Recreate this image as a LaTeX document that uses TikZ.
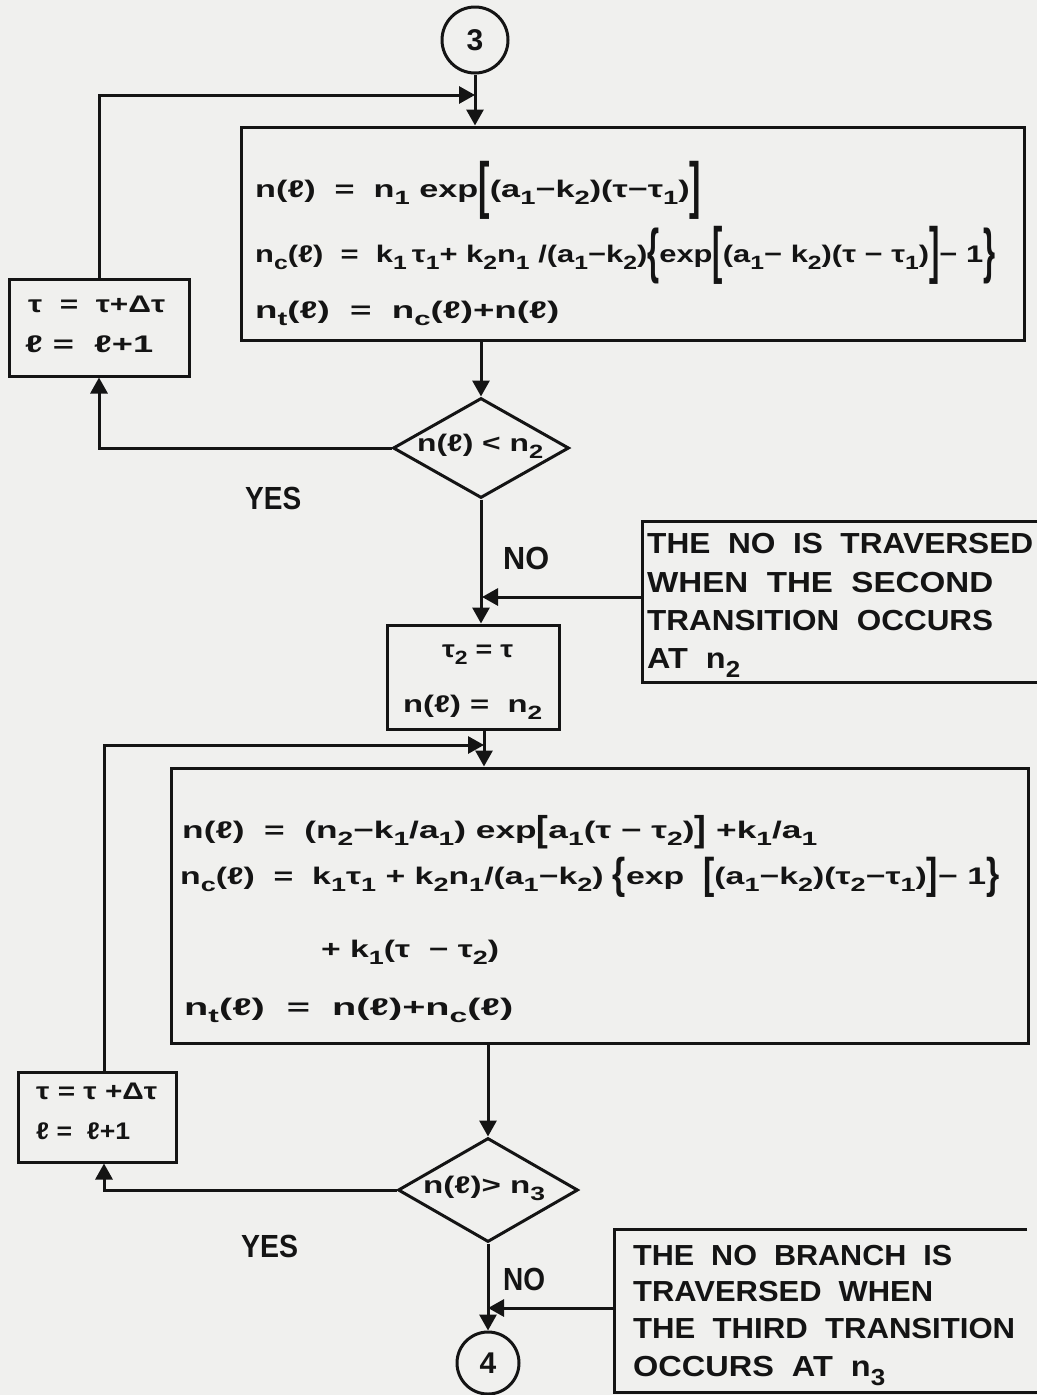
\documentclass[tikz,border=0pt]{standalone}
\usepackage{fontspec}
\setmainfont{Liberation Sans}
\usepackage{graphicx}
\usetikzlibrary{shapes.geometric,arrows.meta}
\newcommand\sbs[1]{\raisebox{-0.32em}{\scalebox{0.8}{#1}}}
\newcommand\BB[3]{\raisebox{#2em}{\scalebox{1}[#1]{#3}}}
\newcommand\fitto[2]{\resizebox{#1pt}{\height}{#2}}
\definecolor{paper}{RGB}{240,240,238}
\definecolor{ink}{RGB}{20,20,20}
\begin{document}
\begin{tikzpicture}[x=1pt,y=-1pt,
  ln/.style={line width=3pt, draw=ink},
  arr/.style={ln,-{Triangle[length=16pt,width=17pt]}},
  boxn/.style={draw=ink,line width=3pt,rectangle,inner sep=0pt},
  ftx/.style={font=\bfseries\fontsize{24}{28}\selectfont, inner sep=0pt, anchor=base west, text=ink},
  fnote/.style={font=\bfseries\fontsize{29}{33}\selectfont, inner sep=0pt, anchor=base west, text=ink},
  flab/.style={font=\bfseries\fontsize{32}{36}\selectfont, inner sep=0pt, anchor=base west, text=ink},
  fcirc/.style={font=\bfseries\fontsize{30}{34}\selectfont, text=ink}
]
\fill[paper] (0,0) rectangle (1037,1395);
\useasboundingbox (0,0) rectangle (1037,1395);

% shapes
\node[boxn, circle, minimum size=66pt, fcirc] (c3) at (475,40) {3};
\node[boxn, minimum width=783pt, minimum height=213pt] (box1) at (632.5,233.5) {};
\node[boxn, minimum width=180pt, minimum height=97pt] (lp1) at (99,327.5) {};
\node[boxn, diamond, minimum width=176pt, minimum height=100pt] (d1) at (481,448) {};
\node[boxn, minimum width=172pt, minimum height=104pt] (box2) at (473,677) {};
\node[minimum width=394pt, minimum height=160pt, inner sep=0pt] (note1) at (840,602) {};
\node[boxn, minimum width=857pt, minimum height=275pt] (box3) at (599.5,905.5) {};
\node[boxn, minimum width=158pt, minimum height=90pt] (lp2) at (97,1117) {};
\node[boxn, diamond, minimum width=180pt, minimum height=104pt] (d2) at (488,1190) {};
\node[boxn, circle, minimum size=62pt, fcirc] (c4) at (488,1363) {4};
\node[minimum width=422pt, minimum height=162pt, inner sep=0pt] (note2) at (826,1311) {};

% texts box1
\node[ftx] (b1a) at (255,197) {\fitto{446}{n(ℓ)~~=~~n\sbs{1}~exp\BB{2.6}{-0.413}{[}(a\sbs{1}−k\sbs{2})(τ−τ\sbs{1})\BB{2.6}{-0.413}{]}}};
\node[ftx] (b1b) at (255,262) {\fitto{740}{n\sbs{c}(ℓ)~~=~~k\sbs{1}\,τ\sbs{1}+~k\sbs{2}n\sbs{1}~/(a\sbs{1}−k\sbs{2})\BB{2.5}{-0.387}{\{}exp\BB{2.6}{-0.413}{[}(a\sbs{1}−~k\sbs{2})(τ~−~τ\sbs{1})\BB{2.6}{-0.413}{]}−~1\BB{2.5}{-0.387}{\}}}};
\node[ftx] (b1c) at (255,318) {\fitto{304}{n\sbs{t}(ℓ)~~=~~n\sbs{c}(ℓ)+n(ℓ)}};

% loop box 1
\node[ftx] (l1a) at (28,312) {\fitto{137}{τ~~=~~τ+Δτ}};
\node[ftx] (l1b) at (25,352) {\fitto{128}{ℓ~=~~ℓ+1}};

% diamond 1
\node[ftx] (d1t) at (417,451) {\fitto{126}{n(ℓ)~<~n\sbs{2}}};

% box2
\node[ftx] (b2a) at (442,657) {\fitto{71}{τ\sbs{2}~=~τ}};
\node[ftx] (b2b) at (403,712) {\fitto{139}{n(ℓ)~=~~n\sbs{2}}};

% box3
\node[ftx] (b3a) at (182,838) {\fitto{635}{n(ℓ)~~=~~(n\sbs{2}−k\sbs{1}/a\sbs{1})~exp\BB{1.5}{-0.129}{[}a\sbs{1}(τ~−~τ\sbs{2})\BB{1.5}{-0.129}{]}~+k\sbs{1}/a\sbs{1}}};
\node[ftx] (b3b) at (180,884) {\fitto{819}{n\sbs{c}(ℓ)~~=~~k\sbs{1}τ\sbs{1}~+~k\sbs{2}n\sbs{1}/(a\sbs{1}−k\sbs{2})~\BB{1.8}{-0.206}{\{}exp~~\BB{1.8}{-0.206}{[}(a\sbs{1}−k\sbs{2})(τ\sbs{2}−τ\sbs{1})\BB{1.8}{-0.206}{]}−~1\BB{1.8}{-0.206}{\}}}};
\node[ftx] (b3c) at (321,957) {\fitto{178}{+~k\sbs{1}(τ~~−~τ\sbs{2})}};
\node[ftx] (b3d) at (184,1015) {\fitto{329}{n\sbs{t}(ℓ)~~=~~n(ℓ)+n\sbs{c}(ℓ)}};

% loop box 2
\node[ftx] (l2a) at (36,1099) {\fitto{121}{τ~=~τ~+Δτ}};
\node[ftx] (l2b) at (36,1139) {\fitto{94}{ℓ~=~~ℓ+1}};

% diamond 2
\node[ftx] (d2t) at (423,1193) {\fitto{122}{n(ℓ)>~n\sbs{3}}};

% labels
\node[flab] (yes1) at (245,509.5) {\fitto{56}{YES}};
\node[flab] (no1) at (503,569.5) {\fitto{46}{NO}};
\node[flab] (yes2) at (241,1257.5) {\fitto{57}{YES}};
\node[flab] (no2) at (503,1290.5) {\fitto{42}{NO}};

% notes
\node[fnote] (n1a) at (647,553) {\fitto{386}{THE~~NO~~IS~~TRAVERSED}};
\node[fnote] (n1b) at (647,592) {\fitto{346}{WHEN~~THE~~SECOND}};
\node[fnote] (n1c) at (647,630) {\fitto{346}{TRANSITION~~OCCURS}};
\node[fnote] (n1d) at (647,668) {\fitto{93}{AT~~n\sbs{2}}};
\node[fnote] (n2a) at (633,1265) {\fitto{319}{THE~~NO~~BRANCH~~IS}};
\node[fnote] (n2b) at (633,1301) {\fitto{300}{TRAVERSED~~WHEN}};
\node[fnote] (n2c) at (633,1338) {\fitto{382}{THE~~THIRD~~TRANSITION}};
\node[fnote] (n2d) at (633,1376) {\fitto{252}{OCCURS~~AT~~n\sbs{3}}};

% connectors
\coordinate (m1) at (475,95);
\coordinate (m2) at (484,745);
\coordinate (a1) at (482,597);
\coordinate (a2) at (488,1308);
\draw[arr] (c3.south) -- (c3.south |- box1.north);
\draw[arr] (lp1.north) |- (m1);
\draw[arr] (box1.south -| d1.north) -- (d1.north);
\draw[arr] (d1.west) -| (lp1.south);
\draw[arr] (d1.south) -- (d1.south |- box2.north);
\draw[arr] (note1.west |- a1) -- (a1);
\draw[arr] ([xshift=11pt]box2.south) -- ([xshift=11pt]box2.south |- box3.north);
\draw[arr] ([xshift=7pt]lp2.north) |- (m2);
\draw[arr] (box3.south -| d2.north) -- (d2.north);
\draw[arr] (d2.west) -| ([xshift=7pt]lp2.south);
\draw[arr] (d2.south) -- (c4.north);
\draw[arr] (note2.west |- a2) -- (a2);
\draw[ln] (note1.north east) -- (note1.north west) -- (note1.south west) -- (note1.south east);
\draw[ln] ([xshift=-10pt]note2.north east) -- (note2.north west) -- (note2.south west) -- (note2.south east);
\end{tikzpicture}
\end{document}
